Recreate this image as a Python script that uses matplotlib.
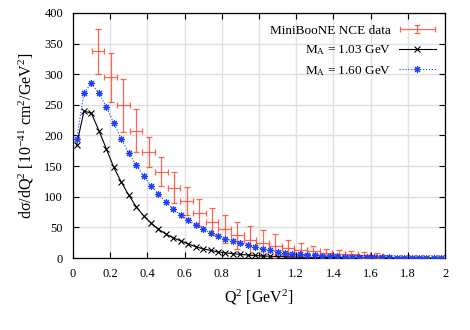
import numpy as np
import matplotlib
matplotlib.use('Agg')
import matplotlib.pyplot as plt
from matplotlib.container import ErrorbarContainer
from matplotlib.legend_handler import HandlerErrorbar

plt.rcParams['font.family'] = ['Liberation Serif', 'DejaVu Serif']
plt.rcParams['mathtext.fontset'] = 'custom'
plt.rcParams['mathtext.rm'] = 'Liberation Serif'
plt.rcParams['mathtext.it'] = 'Liberation Serif:italic'
plt.rcParams['mathtext.default'] = 'regular'

# MiniBooNE NCE data (bin centres, values, errors)
q2_data = [0.136, 0.204, 0.272, 0.340, 0.408, 0.476, 0.544, 0.612, 0.680, 0.748,
           0.816, 0.884, 0.952, 1.020, 1.088, 1.156, 1.224, 1.292, 1.360, 1.428,
           1.496, 1.564, 1.632]
xs_data = [337, 295, 249, 208, 173, 141, 115, 93, 74, 59,
           47, 37, 29, 24, 19.5, 16, 13, 11, 8.5, 7,
           6, 5, 4]
err_data = [36, 40, 43, 35, 25, 24, 25, 23, 22.5, 22,
            23, 22, 24, 21, 19, 13.5, 11, 8.5, 7, 6,
            5.5, 5, 4.5]
bin_half = 0.034

# model curves
q2_model = [0.02, 0.06, 0.10, 0.14, 0.18, 0.22, 0.26, 0.30, 0.34, 0.38,
            0.42, 0.46, 0.50, 0.54, 0.58, 0.62, 0.66, 0.70, 0.74, 0.78,
            0.82, 0.86, 0.90, 0.94, 0.98, 1.02, 1.06, 1.10, 1.14, 1.18,
            1.22, 1.26, 1.30, 1.34, 1.38, 1.42, 1.46, 1.50, 1.54, 1.58,
            1.62, 1.66, 1.70, 1.74, 1.78, 1.82, 1.86, 1.90, 1.94, 1.98]
xs_ma103 = [184, 240, 236, 208, 178, 148, 124, 103, 84, 69,
            57, 47, 39, 33, 28, 23, 18.5, 15, 12.5, 10,
            8.5, 7.2, 6.0, 5.0, 4.2, 3.5, 3.0, 2.5, 2.1, 1.8,
            1.5, 1.3, 1.1, 0.9, 0.8, 0.7, 0.6, 0.5, 0.45, 0.4,
            0.35, 0.3, 0.26, 0.23, 0.2, 0.18, 0.16, 0.14, 0.12, 0.1]
xs_ma160 = [194, 270, 285, 269, 247, 220, 195, 171, 152, 134,
            118, 104.5, 91.5, 80, 70, 61.5, 54, 47, 41, 36,
            31.5, 27.8, 24, 20.5, 17.5, 15, 12.5, 10.5, 8.8, 7.4,
            6.2, 5.2, 4.4, 3.7, 3.1, 2.7, 2.3, 2.0, 1.7, 1.5,
            1.3, 1.1, 1.0, 0.9, 0.8, 0.7, 0.6, 0.55, 0.5, 0.45]

fig = plt.figure(figsize=(4.7, 3.3), dpi=100)
ax = fig.add_axes([0.155, 0.218, 0.792, 0.743])

eb = ax.errorbar(q2_data, xs_data, yerr=err_data, xerr=bin_half, fmt='none',
                 ecolor='#ff4a35', elinewidth=0.9, capsize=2.5, capthick=0.9,
                 alpha=0.85, label='MiniBooNE NCE data', zorder=3)
l1, = ax.plot(q2_model, xs_ma103, color='black', lw=0.8, marker='x', ms=4.5,
              mew=0.8, label='M$_A$ = 1.03 GeV', zorder=4)
l2, = ax.plot(q2_model, xs_ma160, color='#1f3fff', lw=0.8, ls=':', marker=(8, 2, 0),
              ms=5, mew=0.8, label='M$_A$ = 1.60 GeV', zorder=5)

ax.set_xlim(0, 2)
ax.set_ylim(0, 400)
ax.set_xticks(np.arange(0, 2.01, 0.2))
ax.set_xticklabels(['0', '0.2', '0.4', '0.6', '0.8', '1', '1.2', '1.4', '1.6', '1.8', '2'])
ax.set_yticks(np.arange(0, 401, 50))
ax.tick_params(direction='in', top=True, right=True, length=4, labelsize=9, pad=7)
ax.grid(True, color='#e0e0e0', lw=1.0)
ax.set_axisbelow(True)
for s in ax.spines.values():
    s.set_linewidth(0.9)

ax.set_xlabel('Q$^2$ [GeV$^2$]', fontsize=11.5, labelpad=6)
ax.set_ylabel('d\u03c3/dQ$^2$ [10$^{-41}$ cm$^2$/GeV$^2$]', fontsize=11.5, labelpad=6)

leg = ax.legend([eb, l1, l2], ['MiniBooNE NCE data', 'M$_A$ = 1.03 GeV', 'M$_A$ = 1.60 GeV'],
                loc='upper right', bbox_to_anchor=(1.0, 0.99), frameon=False,
                markerfirst=False, fontsize=9.5, handlelength=2.8,
                labelspacing=0.5, handletextpad=0.6, borderaxespad=0.3,
                handler_map={ErrorbarContainer: HandlerErrorbar(xerr_size=1.35, yerr_size=0.3)})

fig.savefig('out.png', dpi=100)
